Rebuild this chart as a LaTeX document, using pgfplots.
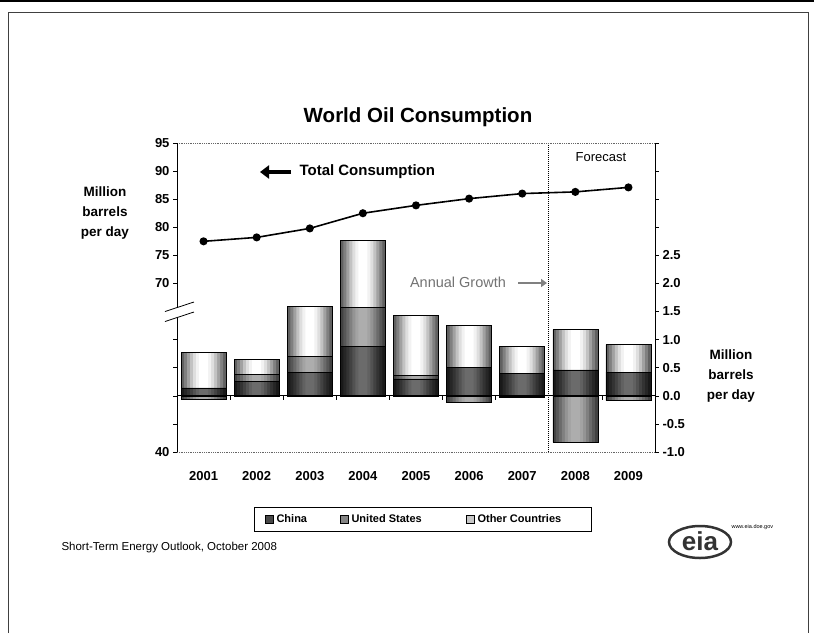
\documentclass[border=0pt]{standalone}
\usepackage{pgfplots}
\pgfplotsset{compat=1.18}
\usepackage{pgfplotstable}
\usepackage{fontspec}
\setmainfont{Liberation Sans}
\usetikzlibrary{arrows.meta}

\pgfplotstableread{
x  year China USup USdn Other Total
0 2001 0.14 0.00 -0.06 0.64 77.5
1 2002 0.25 0.13 0.00 0.27 78.2
2 2003 0.42 0.28 0.00 0.89 79.8
3 2004 0.88 0.69 0.00 1.19 82.5
4 2005 0.30 0.07 0.00 1.06 83.9
5 2006 0.50 0.00 -0.11 0.76 85.1
6 2007 0.40 0.00 -0.02 0.48 86.0
7 2008 0.46 0.00 -0.83 0.72 86.3
8 2009 0.42 0.00 -0.08 0.49 87.1
}\data

\pgfplotsset{
 geom/.style={at={(177pt,-452pt)}, anchor=south west, scale only axis,
   width=478pt, height=309pt, xmin=-0.5, xmax=8.5, clip=false},
 tl/.style={font=\bfseries\fontsize{13}{15}\selectfont},
}
% one layer of the stepped gradient: width, China colour, US colour, Other colour
\newcommand\barlayer[4]{%
\begin{axis}[geom, ymin=-1, ymax=4.5, hide axis, ybar stacked, bar width=#1]
\addplot[draw=none, fill=black!#2] table[x=x, y=China]{\data};
\addplot[draw=none, fill=black!#3] table[x=x, y=USup]{\data};
\addplot[draw=none, fill=black!#4] table[x=x, y=Other]{\data};
\end{axis}}

\begin{document}
\begin{tikzpicture}
\path[use as bounding box, fill=white] (0,0) rectangle (814pt,-633pt);
\draw[line width=1.2pt] (0,-1pt) -- (814pt,-1pt);
\draw[line width=0.8pt, black!75] (8pt,-633pt) -- (8pt,-12pt) -- (808pt,-12pt) -- (808pt,-633pt);

% stepped gradient layers of the positive stacks
\barlayer{45pt}{90}{74}{62}
\barlayer{39pt}{85}{66}{50}
\barlayer{33pt}{80}{58}{37}
\barlayer{27pt}{74}{50}{24}
\barlayer{21pt}{68}{42}{13}
\barlayer{15pt}{62}{36}{5}
\barlayer{9pt}{58}{32}{0}

% negative US bars (right scale) with the same stepped gradient
\begin{axis}[geom, ymin=-1, ymax=4.5, hide axis, ybar]
\addplot[draw=none, fill=black!74, bar shift=0pt, bar width=45pt] table[x=x, y=USdn]{\data};
\addplot[draw=none, fill=black!66, bar shift=0pt, bar width=39pt] table[x=x, y=USdn]{\data};
\addplot[draw=none, fill=black!58, bar shift=0pt, bar width=33pt] table[x=x, y=USdn]{\data};
\addplot[draw=none, fill=black!50, bar shift=0pt, bar width=27pt] table[x=x, y=USdn]{\data};
\addplot[draw=none, fill=black!42, bar shift=0pt, bar width=21pt] table[x=x, y=USdn]{\data};
\addplot[draw=none, fill=black!36, bar shift=0pt, bar width=15pt] table[x=x, y=USdn]{\data};
\addplot[draw=none, fill=black!32, bar shift=0pt, bar width=9pt] table[x=x, y=USdn]{\data};
\addplot[draw=black, line width=0.6pt, fill=none, bar shift=0pt, bar width=45pt] table[x=x, y=USdn]{\data};
\end{axis}

% bars (right scale): outlines, right axis and year labels
\begin{axis}[geom,
  ymin=-1, ymax=4.5,
  axis y line*=right, axis x line*=bottom,
  x axis line style={black!60, densely dotted, line width=0.8pt},
  y axis line style={black, line width=0.8pt},
  xtick={0,1,2,3,4,5,6,7,8},
  xticklabels={2001,2002,2003,2004,2005,2006,2007,2008,2009},
  xtick style={draw=none},
  xticklabel style={tl, yshift=-12pt},
  ytick={-1,-0.5,0,0.5,1,1.5,2,2.5,3,3.5,4,4.5},
  yticklabels={-1.0,-0.5,0.0,0.5,1.0,1.5,2.0,2.5,,,,},
  yticklabel style={tl},
  tick align=outside, major tick length=4pt,
  ytick style={black, line width=0.6pt},
  ybar stacked, bar width=45pt,
]
\addplot[draw=black, line width=0.6pt, fill=none] table[x=x, y=China]{\data};
\addplot[draw=black, line width=0.6pt, fill=none] table[x=x, y=USup]{\data};
\addplot[draw=black, line width=0.6pt, fill=none] table[x=x, y=Other]{\data};
\draw[black, line width=0.8pt] (axis cs:-0.5,0) -- (axis cs:8.5,0);
\pgfplotsinvokeforeach{0.5,1.5,2.5,3.5,4.5,5.5,7.5}{\draw[black, line width=0.6pt] (axis cs:#1,0) -- ++(0pt,-4pt);}
\draw[densely dotted, line width=1pt] (axis cs:6.5,-1) -- (axis cs:6.5,4.5);
\end{axis}

% total consumption (left scale)
\begin{axis}[geom,
  ymin=40, ymax=95,
  axis y line*=left, axis x line*=top,
  x axis line style={black!60, densely dotted, line width=0.8pt},
  y axis line style={black, line width=0.8pt},
  xtick=\empty,
  ytick={40,45,50,55,60,70,75,80,85,90,95},
  yticklabels={40,,,,,70,75,80,85,90,95},
  yticklabel style={tl},
  tick align=outside, major tick length=4pt,
  ytick style={black, line width=0.6pt},
]
\addplot[black, line width=1.6pt, mark=*, mark size=3.2pt] table[x=x, y=Total]{\data};
\end{axis}

% axis break
\fill[white] (167pt,-311pt) -- (194pt,-302pt) -- (194pt,-312pt) -- (167pt,-321pt) -- cycle;
\draw[line width=0.8pt] (165pt,-311.5pt) -- (194pt,-302pt);
\draw[line width=0.8pt] (165pt,-321.5pt) -- (194pt,-312pt);

% texts
\node[font=\bfseries\fontsize{20.5}{24}\selectfont] at (418pt,-117pt) {World Oil Consumption};
\node[font=\bfseries\fontsize{13.5}{20}\selectfont, align=center] at (105pt,-213pt) {Million\\barrels\\per day};
\node[font=\bfseries\fontsize{13.5}{20}\selectfont, align=center] at (731pt,-376pt) {Million\\barrels\\per day};
\draw[-{Triangle[length=9pt,width=13pt]}, line width=4pt] (291pt,-172pt) -- (260pt,-172pt);
\node[anchor=west, font=\bfseries\fontsize{15}{18}\selectfont] at (296pt,-172pt) {Total Consumption};
\node[font=\fontsize{13}{15}\selectfont] at (601pt,-157pt) {Forecast};
\node[font=\fontsize{14.5}{16}\selectfont, text=black!55] at (458pt,-282pt) {Annual Growth};
\draw[-{Triangle[length=6pt,width=8pt]}, line width=2pt, black!50] (518pt,-283pt) -- (547pt,-283pt);

% legend
\draw[line width=0.6pt] (254pt,-507pt) rectangle (591pt,-531pt);
\draw[line width=0.4pt, fill=black!72] (265pt,-515pt) rectangle (273pt,-523pt);
\node[anchor=west, font=\bfseries\fontsize{11}{13}\selectfont] at (273pt,-519pt) {China};
\draw[line width=0.4pt, fill=black!48] (340pt,-515pt) rectangle (348pt,-523pt);
\node[anchor=west, font=\bfseries\fontsize{11}{13}\selectfont] at (348pt,-519pt) {United States};
\draw[line width=0.4pt, fill=black!22] (466pt,-515pt) rectangle (474pt,-523pt);
\node[anchor=west, font=\bfseries\fontsize{11}{13}\selectfont] at (474pt,-519pt) {Other Countries};

% footer
\node[anchor=west, font=\fontsize{11.5}{13}\selectfont] at (58pt,-548pt) {Short-Term Energy Outlook, October 2008};

% eia logo
\draw[line width=2.5pt, black!80] (700pt,-542pt) ellipse (31pt and 16pt);
\node[font=\bfseries\fontsize{26}{28}\selectfont, black!80] at (700pt,-541pt) {eia};
\node[anchor=west, font=\fontsize{5.5}{6}\selectfont] at (728pt,-527pt) {www.eia.doe.gov};
\end{tikzpicture}
\end{document}
